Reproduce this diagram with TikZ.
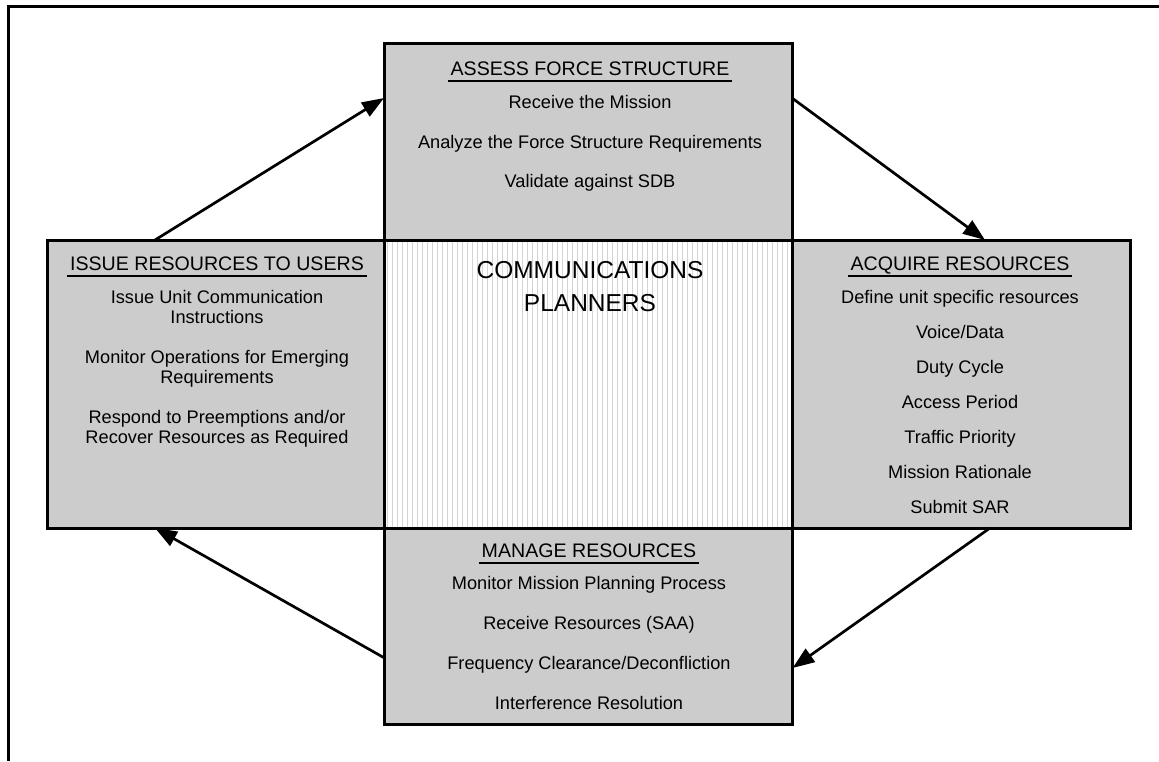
\documentclass[tikz,border=0pt]{standalone}
\usepackage{fontspec}
\setmainfont{Liberation Sans}
\usetikzlibrary{arrows.meta}
\begin{document}
\begin{tikzpicture}[x=1pt,y=-1pt,
  box/.style={draw=black, line width=3pt, fill=black!20, inner sep=0pt, outer sep=0pt},
  txt/.style={font=\fontsize{18.2}{20}\selectfont, text height=13pt, text depth=0pt, inner sep=0pt},
  head/.style={font=\fontsize{19.6}{22}\selectfont, text height=14pt, text depth=0pt, inner sep=0pt},
  big/.style={font=\fontsize{24.5}{28}\selectfont, text height=17.5pt, text depth=0pt, inner sep=0pt},
  uline/.style={line width=2.3pt},
  flow/.style={line width=2.7pt, -{Triangle[length=22pt,width=16pt]}},
  hatchline/.style={line width=1.8pt, draw=black!17},
  frame/.style={line width=3pt}
]
\useasboundingbox (0,0) rectangle (1159,761);
\draw[frame] (8.5,761) -- (8.5,6) -- (1159,6);

% boxes
\node[box, minimum width=408pt, minimum height=197pt] (top) at (588,141.5) {};
\node[box, minimum width=338pt, minimum height=288pt] (left) at (216,384) {};
\node[box, minimum width=338pt, minimum height=288pt] (right) at (961,384) {};
\node[box, minimum width=408pt, minimum height=196pt] (bottom) at (588.5,626) {};
\node[box, fill=white, minimum width=408pt, minimum height=288pt,
  path picture={\foreach \i in {0,...,81}{\draw[hatchline] ([xshift=\i*5pt+3pt]path picture bounding box.north west) -- ([xshift=\i*5pt+3pt]path picture bounding box.south west);}}] (hub) at (588.5,384) {};

% hub text
\node[big] (hub1) at (590,270) {COMMUNICATIONS};
\node[big] (hub2) at (590,303) {PLANNERS};

% top box
\node[head] (h1) at (590,68) {ASSESS FORCE STRUCTURE};
\draw[uline] ([xshift=-2.5pt,yshift=-13pt]h1.west) -- ([xshift=2.5pt,yshift=-13pt]h1.east);
\node[txt] (t1) at (590,102) {Receive the Mission};
\node[txt] (t2) at (590,142) {Analyze the Force Structure Requirements};
\node[txt] (t3) at (590,181) {Validate against SDB};

% left box
\node[head] (h2) at (217,263) {ISSUE RESOURCES TO USERS};
\draw[uline] ([xshift=-2.5pt,yshift=-13pt]h2.west) -- ([xshift=2.5pt,yshift=-13pt]h2.east);
\node[txt] (l1) at (217,297) {Issue Unit Communication};
\node[txt] (l2) at (217,316.5) {Instructions};
\node[txt] (l3) at (217,357) {Monitor Operations for Emerging};
\node[txt] (l4) at (217,376.5) {Requirements};
\node[txt] (l5) at (217,417) {Respond to Preemptions and/or};
\node[txt] (l6) at (217,436.5) {Recover Resources as Required};

% right box
\node[head] (h3) at (960,263) {ACQUIRE RESOURCES};
\draw[uline] ([xshift=-2.5pt,yshift=-13pt]h3.west) -- ([xshift=2.5pt,yshift=-13pt]h3.east);
\node[txt] (r1) at (960,297) {Define unit specific resources};
\node[txt] (r2) at (960,332) {Voice/Data};
\node[txt] (r3) at (960,367) {Duty Cycle};
\node[txt] (r4) at (960,402) {Access Period};
\node[txt] (r5) at (960,437) {Traffic Priority};
\node[txt] (r6) at (960,472) {Mission Rationale};
\node[txt] (r7) at (960,507) {Submit SAR};

% bottom box
\node[head] (h4) at (589,550) {MANAGE RESOURCES};
\draw[uline] ([xshift=-2.5pt,yshift=-13pt]h4.west) -- ([xshift=2.5pt,yshift=-13pt]h4.east);
\node[txt] (b1) at (589,583) {Monitor Mission Planning Process};
\node[txt] (b2) at (589,623) {Receive Resources (SAA)};
\node[txt] (b3) at (589,663) {Frequency Clearance/Deconfliction};
\node[txt] (b4) at (589,703) {Interference Resolution};

% cycle arrows
\draw[flow] ([xshift=108pt]left.north west) -- ([yshift=-55pt]top.north west);
\draw[flow] ([yshift=-55pt]top.north east) -- ([xshift=193pt]right.north west);
\draw[flow] ([xshift=198pt]right.south west) -- ([yshift=-140pt]bottom.north east);
\draw[flow] ([yshift=-130pt]bottom.north west) -- ([xshift=108pt]left.south west);
\end{tikzpicture}
\end{document}
